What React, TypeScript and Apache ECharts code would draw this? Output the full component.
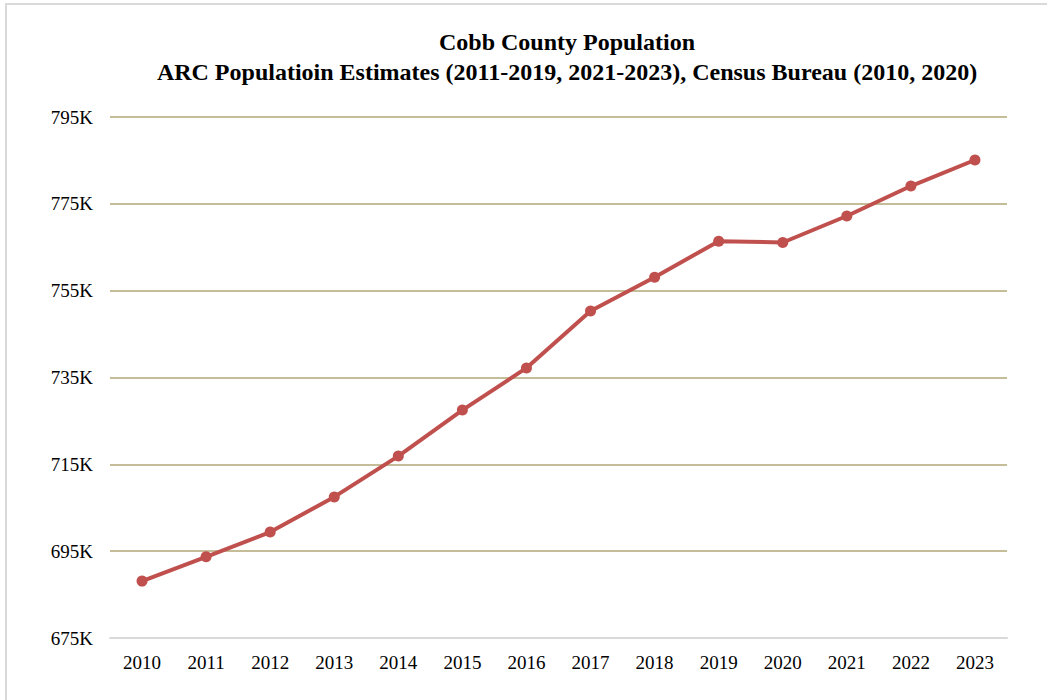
import React, { useEffect, useRef } from "react";
import * as echarts from "echarts";

const years = ["2010", "2011", "2012", "2013", "2014", "2015", "2016", "2017", "2018", "2019", "2020", "2021", "2022", "2023"];
const population = [688.1, 693.7, 699.4, 707.5, 716.9, 727.5, 737.2, 750.3, 758.1, 766.4, 766.1, 772.2, 779.1, 785.1];
const titleLines = [
  "Cobb County Population",
  "ARC Populatioin Estimates (2011-2019, 2021-2023), Census Bureau (2010, 2020)",
];

const SERIF = "'Liberation Serif', 'DejaVu Serif', serif";

export default function App() {
  const ref = useRef<HTMLDivElement>(null);
  useEffect(() => {
    if (!ref.current) return;
    const chart = echarts.init(ref.current, null, { renderer: "svg" });
    chart.setOption({
      animation: false,
      backgroundColor: "#ffffff",
      title: {
        text: titleLines.join("\n"),
        left: 562,
        top: 22,
        textAlign: "center",
        textStyle: {
          fontFamily: SERIF,
          fontWeight: "bold",
          fontSize: 24,
          lineHeight: 30,
          color: "#000000",
        },
      },
      graphic: [
        {
          type: "rect",
          shape: { x: 6, y: 4, width: 1100, height: 800 },
          style: { fill: "none", stroke: "#d9d9d9", lineWidth: 2 },
          silent: true,
        },
      ],
      grid: { left: 110, right: 40, top: 117, bottom: 62, containLabel: false },
      xAxis: {
        type: "category",
        data: years,
        boundaryGap: true,
        axisLine: { show: true, lineStyle: { color: "#d9d9d9", width: 2 } },
        axisTick: { show: false },
        axisLabel: {
          margin: 15,
          fontFamily: SERIF,
          fontSize: 19,
          color: "#000000",
        },
      },
      yAxis: {
        type: "value",
        min: 675,
        max: 795,
        interval: 20,
        axisLine: { show: false },
        axisTick: { show: false },
        splitLine: { lineStyle: { color: "#c4bd97", width: 2 } },
        axisLabel: {
          margin: 17,
          fontFamily: SERIF,
          fontSize: 19,
          color: "#000000",
          formatter: (v: number) => v + "K",
        },
      },
      series: [
        {
          type: "line",
          data: population,
          symbol: "circle",
          symbolSize: 11,
          lineStyle: { color: "#c0504d", width: 4 },
          itemStyle: { color: "#c0504d" },
        },
      ],
    });
    return () => chart.dispose();
  }, []);
  return (
    <div
      ref={ref}
      style={{ position: "absolute", left: 0, top: 0, width: 1047, height: 700 }}
    />
  );
}
